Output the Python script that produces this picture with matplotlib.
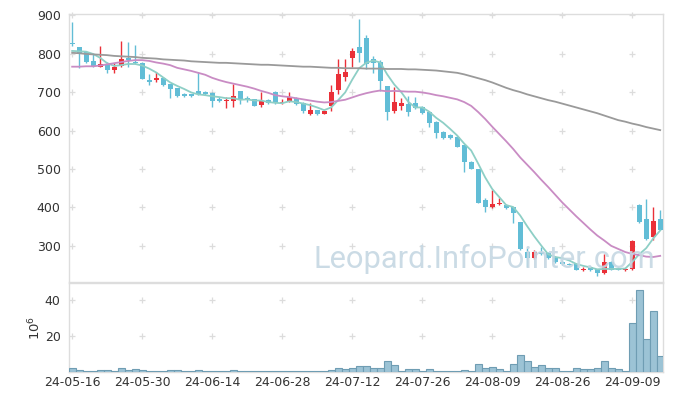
import matplotlib.pyplot as plt
import numpy as np
import pandas as pd

# trading days (KRX, 2024-05-16 .. 2024-09-13)
holidays = ["2024-06-06", "2024-08-15"]
days = pd.bdate_range("2024-05-16", "2024-09-13", freq="C", holidays=holidays)
dates = [d.strftime("%y-%m-%d") for d in days]

opens = [828, 816, 805, 781, 766, 772, 757, 768, 788, 779,
         776, 731, 731, 737, 721, 710, 695, 694, 703, 700,
         698, 682, 677, 677, 703, 685, 681, 666, 679, 701,
         671, 675, 685, 671, 642, 653, 644, 664, 705, 740,
         789, 816, 840, 785, 779, 716, 651, 664, 669, 671,
         660, 649, 623, 597, 588, 584, 562, 519, 499, 418,
         400, 408, 406, 400, 361, 283, 268, 283, 281, 272,
         259, 253, 253, 238, 245, 240, 229, 259, 240, 236,
         240, 406, 369, 324, 369]
highs = [882, 817, 806, 800, 820, 779, 776, 832, 829, 822,
         777, 746, 751, 740, 722, 711, 697, 696, 751, 704,
         699, 686, 686, 721, 704, 690, 682, 701, 682, 703,
         681, 699, 687, 673, 671, 654, 653, 718, 785, 785,
         815, 889, 848, 793, 783, 717, 712, 684, 690, 686,
         664, 651, 625, 599, 592, 586, 563, 520, 500, 424,
         444, 425, 410, 402, 362, 294, 290, 296, 284, 274,
         262, 256, 255, 244, 247, 241, 279, 260, 244, 242,
         314, 408, 421, 402, 394]
lows = [821, 762, 775, 765, 765, 749, 750, 764, 764, 773,
        733, 718, 727, 716, 684, 686, 686, 688, 692, 692,
        660, 673, 659, 662, 669, 673, 663, 662, 670, 670,
        669, 673, 666, 645, 641, 641, 643, 651, 695, 729,
        764, 779, 759, 750, 703, 627, 646, 653, 638, 657,
        643, 610, 581, 578, 578, 556, 493, 499, 411, 388,
        399, 406, 397, 359, 290, 246, 266, 276, 266, 255,
        251, 249, 237, 234, 235, 222, 228, 237, 236, 234,
        238, 359, 314, 316, 340]
closes = [824, 800, 779, 767, 773, 757, 766, 786, 783, 775,
          734, 727, 736, 718, 708, 690, 690, 690, 694, 695,
          677, 677, 679, 690, 679, 679, 664, 677, 671, 671,
          674, 686, 668, 651, 653, 643, 651, 701, 747, 753,
          806, 802, 772, 776, 729, 649, 675, 671, 649, 658,
          646, 620, 594, 580, 581, 558, 519, 500, 412, 401,
          409, 412, 398, 386, 291, 268, 283, 279, 268, 257,
          253, 251, 238, 240, 236, 229, 259, 238, 238, 240,
          313, 361, 317, 365, 342]

ma5 = [807, 806, 805, 799, 789, 775, 768, 770, 773, 773,
       769, 761, 751, 738, 725, 716, 708, 699, 694, 692,
       689, 687, 684, 684, 680, 681, 678, 678, 674, 672,
       671, 676, 674, 670, 666, 660, 653, 660, 679, 699,
       732, 762, 776, 782, 777, 746, 720, 700, 675, 660,
       660, 649, 633, 620, 604, 587, 566, 548, 514, 478,
       448, 427, 406, 401, 379, 351, 325, 301, 278, 271,
       268, 262, 253, 248, 244, 239, 240, 240, 240, 241,
       258, 278, 294, 319, 340]
ma20 = [766, 766, 767, 767, 769, 772, 775, 778, 781, 783,
        783, 781, 777, 774, 770, 763, 759, 755, 750, 745,
        737, 731, 726, 722, 718, 714, 709, 703, 698, 692,
        689, 687, 684, 681, 678, 675, 673, 674, 677, 680,
        686, 692, 697, 701, 704, 702, 703, 702, 701, 701,
        699, 696, 692, 689, 685, 681, 674, 664, 648, 630,
        610, 591, 572, 552, 530, 511, 492, 472, 453, 433,
        413, 395, 377, 360, 343, 327, 314, 300, 292, 284,
        279, 276, 272, 271, 274]
ma120 = [802, 801, 799, 798, 797, 796, 794, 793, 792, 791,
         789, 788, 787, 785, 784, 783, 782, 780, 779, 778,
         777, 776, 776, 775, 774, 773, 772, 771, 771, 770,
         769, 768, 767, 766, 766, 765, 764, 763, 763, 762,
         762, 762, 761, 761, 761, 760, 760, 760, 759, 759,
         758, 757, 756, 754, 752, 750, 746, 741, 736, 731,
         725, 718, 711, 705, 700, 694, 689, 684, 679, 675,
         670, 665, 660, 655, 650, 645, 639, 633, 627, 623,
         618, 614, 609, 605, 601]

volume = [2.0, 1.0, 0.3, 0.3, 1.0, 1.0, 0.3, 2.0, 1.0, 1.4,
          1.0, 0.3, 0.3, 0.3, 1.0, 1.0, 0.3, 0.3, 1.0, 0.3,
          0.3, 0.3, 0.3, 1.0, 0.3, 0.3, 0.3, 0.3, 0.3, 0.3,
          0.3, 0.3, 0.3, 0.3, 0.3, 0.3, 0.3, 1.0, 2.0, 1.5,
          2.0, 3.4, 3.4, 2.0, 2.0, 6.1, 3.9, 0.8, 1.5, 1.5,
          0.8, 1.5, 0.5, 0.5, 0.5, 0.5, 1.3, 0.8, 4.4, 2.0,
          2.6, 1.4, 0.6, 4.4, 9.4, 6.1, 2.6, 3.9, 2.0, 2.0,
          0.6, 0.6, 2.0, 1.4, 1.4, 2.0, 6.1, 2.0, 1.4, 0.6,
          27.0, 45.6, 18.1, 33.9, 8.9]

price_ticks = [300, 400, 500, 600, 700, 800, 900]
vol_ticks = [20, 40]
tick_idx = list(range(0, len(dates), 10))

RED = "#ea3038"
BLUE = "#62bdd6"
GRID = "#dcdcdc"

o = np.array(opens)
c = np.array(closes)
x = np.arange(len(dates))
col = np.where(c >= o, RED, BLUE)

W, H = 673, 400
fig = plt.figure(figsize=(W / 100, H / 100), dpi=100)
ax = fig.add_axes([69 / W, 1 - 282 / H, 594 / W, 268 / H])
axv = fig.add_axes([69 / W, 1 - 372 / H, 594 / W, 89 / H], sharex=ax)

# watermark, sized to span x 313..655 px
wm = fig.text(313 / W, 1 - 268 / H, "Leopard.InfoPointer.com", fontsize=22,
              family="Roboto", color="#c6d8e3",
              ha="left", va="baseline", alpha=0.9, zorder=0)
fig.canvas.draw()
wpx = wm.get_window_extent().width
wm.set_fontsize(22 * 342 / wpx)

# candles
ax.vlines(x, lows, highs, colors=col, lw=1, zorder=3)
ax.bar(x, np.maximum(np.abs(c - o), 1.5), bottom=np.minimum(o, c), width=0.72,
       color=col, zorder=4)

ax.plot(x, ma5, color="#8ecfc6", lw=1.3, zorder=5)
ax.plot(x, ma20, color="#c98cc4", lw=1.3, zorder=5)
ax.plot(x, ma120, color="#9a9a9a", lw=1.3, zorder=5)

axv.bar(x, volume, width=1.0, color="#9cc3d5", edgecolor="#6f9db3", lw=0.8, zorder=3)

gx, gy = np.meshgrid(tick_idx, price_ticks)
ax.plot(gx.ravel(), gy.ravel(), "+", color=GRID, ms=5, mew=0.9, zorder=1, clip_on=False)
gx, gy = np.meshgrid(tick_idx, vol_ticks)
axv.plot(gx.ravel(), gy.ravel(), "+", color=GRID, ms=5, mew=0.9, zorder=1, clip_on=False)

ax.set_xlim(-0.45, 84.4)
ax.set_ylim(206, 903)
axv.set_ylim(0, 49.4)

ax.set_yticks(price_ticks)
axv.set_yticks(vol_ticks)
axv.set_xticks(tick_idx)
axv.set_xticklabels([dates[i] for i in tick_idx])
ax.tick_params(axis="x", labelbottom=False)

for a in (ax, axv):
    a.patch.set_alpha(0)
    a.tick_params(length=0, labelsize=9, colors="#333333", pad=6)
    for s in a.spines.values():
        s.set_color("#dddddd")
        s.set_linewidth(1)
axv.tick_params(axis="x", pad=3)

axv.set_ylabel(r"$\mathregular{10^6}$", fontsize=9.5, color="#333333", labelpad=1)

fig.savefig("out.png", dpi=100)
